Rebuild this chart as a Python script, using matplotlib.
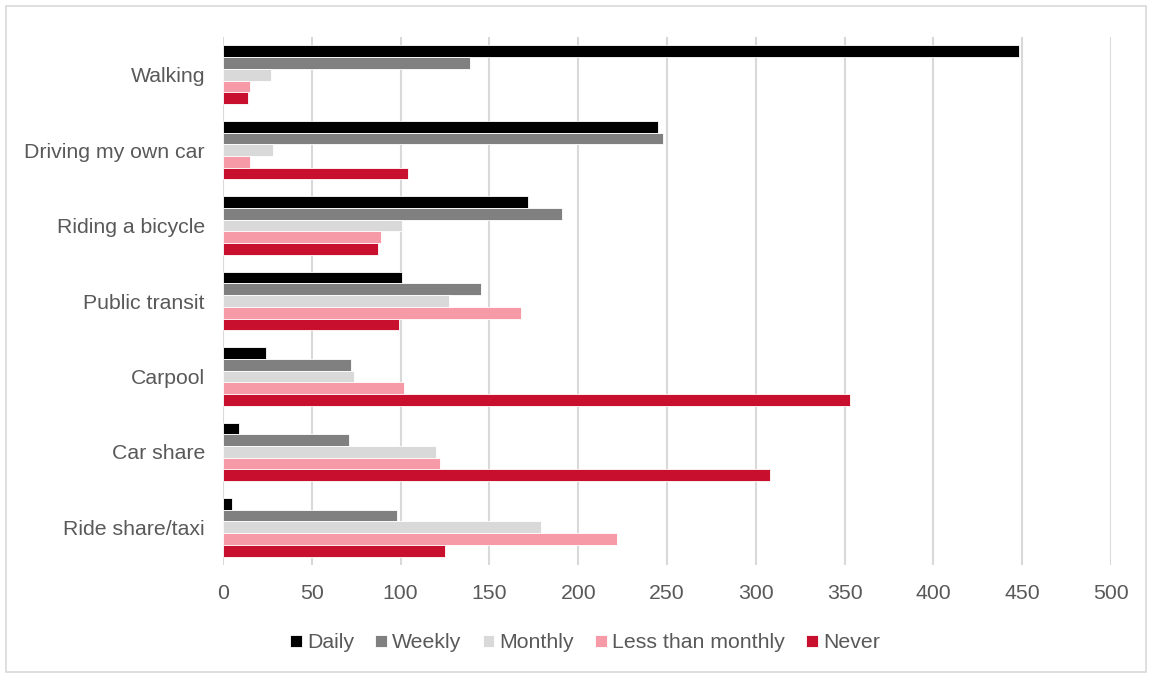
import numpy as np
import matplotlib.pyplot as plt
from matplotlib.patches import Rectangle

categories = ["Walking", "Driving my own car", "Riding a bicycle", "Public transit",
              "Carpool", "Car share", "Ride share/taxi"]
series = ["Daily", "Weekly", "Monthly", "Less than monthly", "Never"]
daily = [448, 245, 172, 101, 24, 9, 5]
weekly = [139, 248, 191, 145, 72, 71, 98]
monthly = [27, 28, 101, 127, 74, 120, 179]
less_monthly = [15, 15, 89, 168, 102, 122, 222]
never = [14, 104, 87, 99, 353, 308, 125]
colors = ["#000000", "#808080", "#D9D9D9", "#F59AA6", "#C8102E"]

plt.rcParams['font.family'] = ['Liberation Sans', 'DejaVu Sans']
text_color = '#595959'
fs = 15.3

fig = plt.figure(figsize=(11.51, 6.77), dpi=100)
ax = fig.add_axes([223 / 1151, 1 - 565 / 677, (1111 - 223) / 1151, (565 - 37) / 677])

values = [daily, weekly, monthly, less_monthly, never]
y = np.arange(len(categories))
h = 0.155
for i, (vals, name, c) in enumerate(zip(values, series, colors)):
    ax.barh(y + (i - 2) * h, vals, height=h, color=c, edgecolor='white',
            linewidth=0.6, label=name, zorder=3)

ax.set_ylim(len(categories) - 0.5, -0.5)
ax.set_xlim(0, 500)
ax.set_xticks(np.arange(0, 501, 50))
ax.set_yticks(y)
ax.set_yticklabels(categories)
ax.grid(axis='x', color='#D9D9D9', linewidth=1.5, zorder=0)
for s in ax.spines.values():
    s.set_visible(False)
ax.tick_params(axis='both', length=0, labelsize=fs, colors=text_color)
ax.tick_params(axis='y', pad=13)
ax.tick_params(axis='x', pad=14)

leg = fig.legend(loc='center', bbox_to_anchor=(585 / 1151, 1 - 643 / 677), ncol=5,
                 frameon=False, fontsize=fs, handlelength=0.55, handleheight=0.55,
                 handletextpad=0.25, columnspacing=1.0)
for t in leg.get_texts():
    t.set_color(text_color)

fig.patches.append(Rectangle((6 / 1151, 5 / 677), 1140 / 1151, 666 / 677,
                             transform=fig.transFigure, fill=False,
                             edgecolor='#D9D9D9', linewidth=1.2))

fig.savefig('out.png', dpi=100)
